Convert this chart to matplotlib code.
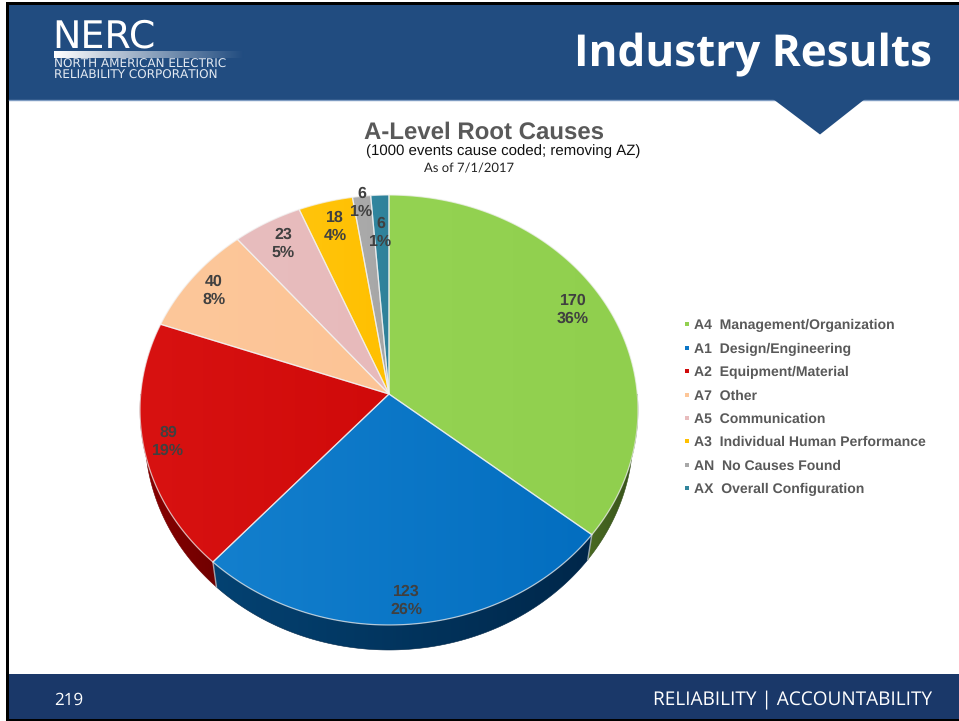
import numpy as np
import matplotlib
matplotlib.use("Agg")
import matplotlib.pyplot as plt
from matplotlib.patches import Polygon, Rectangle
from matplotlib.lines import Line2D
from matplotlib.colors import to_rgb

plt.rcParams["text.hinting"] = "no_hinting"
plt.rcParams["text.hinting_factor"] = 1

# ---- data
codes = ["A4", "A1", "A2", "A7", "A5", "A3", "AN", "AX"]
names = ["Management/Organization", "Design/Engineering", "Equipment/Material", "Other",
         "Communication", "Individual Human Performance", "No Causes Found", "Overall Configuration"]
counts = [170, 123, 89, 40, 23, 18, 6, 6]
percents = [36, 26, 19, 8, 5, 4, 1, 1]

# ---- styles
top_left = ["#94d352", "#137fcd", "#d81211", "#fdc79a", "#e8bdbe", "#ffc40c", "#ababab", "#31869f"]
top_right = ["#90cf4e", "#036ec0", "#d00a0a", "#fcc496", "#e7babb", "#ffc000", "#a6a6a6", "#2f8199"]
side_left = ["#4a6a22", "#044272", "#8a0000"]
side_right = ["#35501a", "#00274a", "#700000"]
legend_colors = ["#92d050", "#0b76c6", "#d00a0a", "#fdc698", "#e8bcbd", "#ffc000", "#a8a8a8", "#31859c"]
label_px = [(573, 310), (406.5, 601), (168, 442), (214, 291), (283.5, 244), (335, 227), (362, 203), (381, 233)]

HEADER = "#214c80"
FOOTER = "#1a3869"

W, H = 959, 721
fig = plt.figure(figsize=(W / 100, H / 100), dpi=100, facecolor="white")
ax = fig.add_axes([0, 0, 1, 1])
ax.set_axis_off()
px = 0.72  # px -> pt


def hgrad(c0, c1, extent, clip=None, z=1):
    a, b = np.array(to_rgb(c0)), np.array(to_rgb(c1))
    t = np.linspace(0, 1, 128)[None, :, None]
    img = a + (b - a) * t
    im = ax.imshow(img, extent=extent, aspect="auto", zorder=z, interpolation="bilinear")
    if clip is not None:
        p = Polygon(clip, closed=True, transform=ax.transData, fc="none", ec="none")
        ax.add_patch(p)
        im.set_clip_path(p)
    return im


# ---- slide frame
ax.add_patch(Rectangle((6, 2), W - 6, H - 2, fc="black", ec="none", zorder=0))
ax.add_patch(Rectangle((8.5, 4.5), W - 8.5, 714.5, fc="white", ec="none", zorder=0.1))
ax.add_patch(Rectangle((8.5, 4.5), W - 8.5, 95, fc=HEADER, ec="none", zorder=0.2))
ax.add_line(Line2D([8.5, W], [99.5, 99.5], color="#7f9cc2", lw=1, zorder=0.3))
ax.add_patch(Polygon([(773, 99), (865, 99), (820, 134.5)], fc=HEADER, ec="none", zorder=0.4))
ax.add_patch(Rectangle((8.5, 674), W - 8.5, 45, fc=FOOTER, ec="none", zorder=0.2))

# ---- logo and header text
ax.text(52, 47.5, "NERC", color="white", fontsize=37.5 * px, family="DejaVu Sans", va="baseline", ha="left", zorder=3)
hgrad("#ffffff", HEADER, (54, 244, 58, 51), z=2)
ax.text(54, 68, "NORTH AMERICAN ELECTRIC", color="#e4eaf2", fontsize=11.6 * px, family="DejaVu Sans",
        va="baseline", ha="left", zorder=3)
ax.text(54, 79, "RELIABILITY CORPORATION", color="#e4eaf2", fontsize=11.6 * px, family="DejaVu Sans",
        va="baseline", ha="left", zorder=3)
ax.text(932, 66, "Industry Results", color="white", fontsize=43.55 * px, fontweight="bold",
        family="Open Sans", va="baseline", ha="right", zorder=3)
ax.text(54, 705, "219", color="white", fontsize=17.5 * px, family="Open Sans", va="baseline", ha="left", zorder=3)
ax.text(932, 705, "RELIABILITY | ACCOUNTABILITY", color="white", fontsize=18.65 * px, family="Open Sans",
        va="baseline", ha="right", zorder=3)

# ---- chart titles
ax.text(484.5, 139, "A-Level Root Causes", color="#595959", fontsize=24 * px, fontweight="bold",
        family="Liberation Sans", ha="center", va="baseline", zorder=3)
ax.text(503, 154.5, "(1000 events cause coded; removing AZ)", color="#111111", fontsize=14.6 * px,
        family="Liberation Sans", ha="center", va="baseline", zorder=3)
ax.text(469, 172, "As of 7/1/2017", color="#222222", fontsize=13 * px,
        family="Lato", ha="center", va="baseline", zorder=3)

# ---- perspective pie
CX, CY = 389.0, 394.0
A, B, K = 248.3, 213.8, -0.0744
DEPTH, SHRINK = 25.0, 0.98


def rim(theta_deg):
    t = np.radians(theta_deg)
    u, v = np.sin(t), -np.cos(t)
    d = 1 + K * v
    return CX + A * u / d, CY + B * v / d


fracs = np.array(counts, dtype=float) / sum(counts)
edges = np.concatenate([[0], np.cumsum(fracs)]) * 360.0

# side wall
for i in range(3):
    a0, a1 = max(edges[i], 90.0), min(edges[i + 1], 270.0)
    th = np.linspace(a0, a1, 200)
    x, y = rim(th)
    xb = CX + (x - CX) * SHRINK
    yb = y + DEPTH
    poly = np.column_stack([np.r_[x, xb[::-1]], np.r_[y, yb[::-1]]])
    c_l, c_r = side_left[i], side_right[i]
    hgrad(c_l, c_r, (poly[:, 0].min(), poly[:, 0].max(), poly[:, 1].max(), poly[:, 1].min()), clip=poly, z=1)
    ax.add_patch(Polygon(poly, fc="none", ec=c_r, lw=0.4, zorder=1.1))
    if edges[i + 1] < 270:
        ax.add_line(Line2D([x[-1], xb[-1]], [y[-1], yb[-1]], color="#b9c2c8", lw=1, alpha=0.8, zorder=1.2))

# top surface
for i in range(len(counts)):
    th = np.linspace(edges[i], edges[i + 1], 240)
    x, y = rim(th)
    poly = np.column_stack([np.r_[CX, x], np.r_[CY, y]])
    hgrad(top_left[i], top_right[i], (poly[:, 0].min(), poly[:, 0].max(), poly[:, 1].max(), poly[:, 1].min()),
          clip=poly, z=2)
for i in range(len(counts)):
    th = np.linspace(edges[i], edges[i + 1], 240)
    x, y = rim(th)
    poly = np.column_stack([np.r_[CX, x], np.r_[CY, y]])
    ax.add_patch(Polygon(poly, fc="none", ec="#f2f2f2", lw=0.9, alpha=0.7, joinstyle="round", zorder=2.2))

# data labels
for n, p, (lx, ly) in zip(counts, percents, label_px):
    ax.text(lx, ly, f"{n}\n{p}%", color="#404040", fontsize=16 * px, fontweight="bold",
            family="Liberation Sans", ha="center", va="center", linespacing=1.25, zorder=4)

# ---- legend
handles = [Line2D([], [], ls="none", marker="s", ms=3.4, mfc=c, mec=c, mew=0) for c in legend_colors]
labels = [f"{c}  {n}" for c, n in zip(codes, names)]
leg = ax.legend(handles, labels, loc="upper left", bbox_to_anchor=(683, 319), bbox_transform=ax.transData,
                frameon=False, handlelength=0.5, handletextpad=0.26, labelspacing=0.74, borderaxespad=0, borderpad=0,
                prop={"family": "Liberation Sans", "weight": "bold", "size": 14 * px}, labelcolor="#595959")
leg.set_zorder(4)

ax.set_xlim(0, W)
ax.set_ylim(H, 0)
fig.savefig("out.png", dpi=100, facecolor="white")
